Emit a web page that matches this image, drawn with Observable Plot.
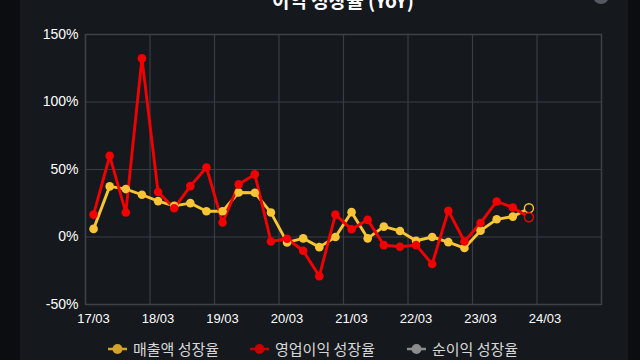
<!DOCTYPE html>
<html>
<head>
<meta charset="utf-8">
<script src="https://cdn.jsdelivr.net/npm/d3@7"></script>
<script src="https://cdn.jsdelivr.net/npm/@observablehq/plot@0.6"></script>
<style>
  html, body { margin: 0; padding: 0; background: #0b0d10; }
  #wrap { position: relative; width: 640px; height: 360px; overflow: hidden; background: #0b0d10;
          font-family: "Liberation Sans", "Noto Sans CJK KR", sans-serif; }
  #panel { position: absolute; left: 20px; top: 0; width: 608px; height: 360px; background: #15181d; }
  #title { position: absolute; left: 0; width: 686px; top: -12px; text-align: center; color: #fff;
           font: bold 19px "Noto Sans CJK KR", sans-serif; line-height: 24px; }
  #btn { position: absolute; left: 593px; top: -12px; width: 16px; height: 16px; border-radius: 50%; background: #55585e; }
  #chart { position: absolute; left: 0; top: 0; }
  #legend { position: absolute; top: 339px; left: 0; width: 640px; height: 20px; }
  .item { position: absolute; top: 0; display: flex; align-items: center; color: #d8d8d8;
          font: 15px "Noto Sans CJK KR", sans-serif; line-height: 19px; white-space: nowrap; }
  .item svg { margin-right: 6px; }
</style>
</head>
<body>
<div id="wrap">
  <div id="panel"></div>
  <div id="chart"></div>
  <div id="title">이익 성장율 (YoY)</div>
  <div id="btn"></div>
  <div id="legend"></div>
</div>
<script>
// Quarter categories
const quarters = ["17/03","17/06","17/09","17/12","18/03","18/06","18/09","18/12",
                  "19/03","19/06","19/09","19/12","20/03","20/06","20/09","20/12",
                  "21/03","21/06","21/09","21/12","22/03","22/06","22/09","22/12",
                  "23/03","23/06","23/09","23/12"];
// 매출액 성장율 (%)
const salesGrowth = [6, 37.5, 35.5, 31.3, 26.6, 23.1, 25.1, 19.1,
                     19.1, 33, 32.8, 18.1, -4, -1, -7.5, 0,
                     18.4, -1, 7.7, 4.5, -2.8, 0, -3.8, -8.2,
                     4.7, 13.1, 15.1, 21.3];
// 영업이익 성장율 (%)
const opGrowth = [16.6, 60.1, 18.1, 132.3, 33.3, 21.3, 37.7, 51.5,
                  10.7, 39, 46.4, -3.3, -1.3, -10.2, -29, 16.6,
                  5.7, 12.7, -6, -7.2, -6, -20, 19.5, -3.3,
                  10.4, 26.3, 21.9, 14.6];
// 순이익 성장율: no data shown
const netGrowth = [];

const xTickLabels = ["17/03","18/03","19/03","20/03","21/03","22/03","23/03","24/03"];
const yTicks = [-50, 0, 50, 100, 150];
const seriesNames = ["매출액 성장율", "영업이익 성장율", "순이익 성장율"];
const seriesColors = ["#f7c535", "#f20000", "#9a9a9a"];
const legendColors = ["#d2a22a", "#c40000", "#8c8c8c"];

// Build tables
const rows = [];
quarters.forEach((q, i) => {
  rows.push({series: seriesNames[0], i, q, v: salesGrowth[i], last: i === quarters.length - 1});
  rows.push({series: seriesNames[1], i, q, v: opGrowth[i], last: i === quarters.length - 1});
});
const tickIdx = xTickLabels.map(l => quarters.indexOf(l) >= 0 ? quarters.indexOf(l) : quarters.length);
const gridIdx = tickIdx.map(t => t - 0.5);
const bg = "#15181d";

const chart = Plot.plot({
  width: 640,
  height: 336,
  marginTop: 34,
  marginBottom: 32,
  marginLeft: 85,
  marginRight: 39,
  style: {background: "transparent", color: "#ffffff", fontSize: "13px", fontFamily: "Liberation Sans, sans-serif"},
  x: {domain: [-0.5, 31.5]},
  y: {domain: [-50, 150]},
  color: {domain: seriesNames, range: seriesColors},
  marks: [
    Plot.gridX(gridIdx, {stroke: "#3a3d44", strokeOpacity: 1, strokeWidth: 1.2}),
    Plot.gridY(yTicks, {stroke: "#3a3d44", strokeOpacity: 1, strokeWidth: 1.2}),
    Plot.frame({stroke: "#3e4148", strokeWidth: 1.5}),
    Plot.axisY(yTicks, {tickSize: 0, tickPadding: 7, tickFormat: d => d + "%", fontSize: 14, label: null}),
    Plot.axisX(tickIdx, {tickSize: 0, tickPadding: 9, tickFormat: (d, k) => xTickLabels[k], fontSize: 13, label: null}),
    Plot.line(rows, {x: "i", y: "v", z: "series", stroke: "series", strokeWidth: 2.9, curve: "linear"}),
    Plot.dot(rows.filter(d => !d.last), {x: "i", y: "v", fill: "series", r: 4.3}),
    Plot.dot(rows.filter(d => d.last), {x: "i", y: "v", stroke: "series", fill: bg, r: 4.5, strokeWidth: 1.4})
  ]
});
document.getElementById("chart").appendChild(chart);

// Legend
const legendX = [108, 250, 407];
const legend = document.getElementById("legend");
seriesNames.forEach((name, k) => {
  const div = document.createElement("div");
  div.className = "item";
  div.style.left = legendX[k] + "px";
  div.innerHTML = `<svg width="19" height="12"><line x1="0" y1="6" x2="19" y2="6" stroke="${legendColors[k]}" stroke-width="2.5"/><circle cx="9.5" cy="6" r="5" fill="${legendColors[k]}"/></svg><span>${name}</span>`;
  legend.appendChild(div);
});
</script>
</body>
</html>
